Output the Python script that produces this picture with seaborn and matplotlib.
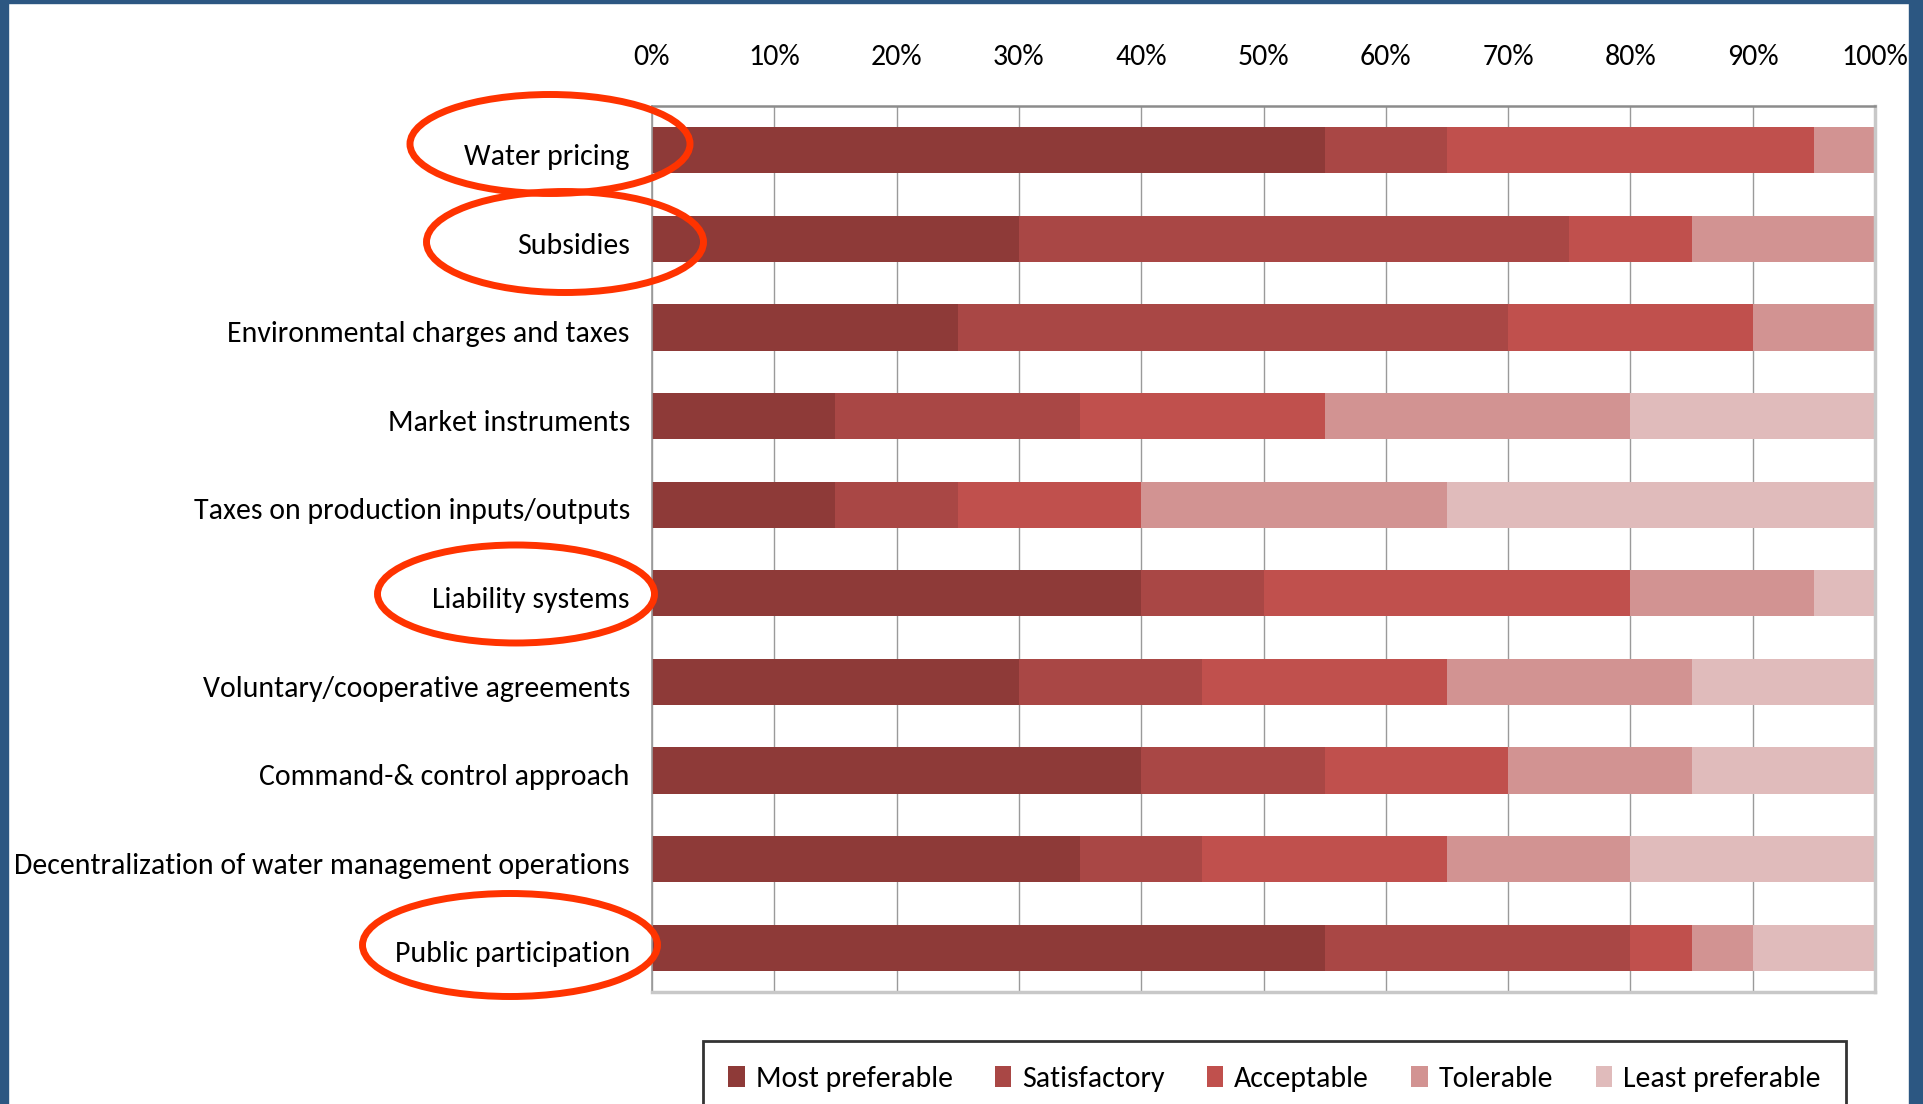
import numpy as np
import matplotlib
matplotlib.use("Agg")
import matplotlib.pyplot as plt
import seaborn as sns
from matplotlib.patches import Ellipse, Rectangle, Patch
from matplotlib.transforms import ScaledTranslation

# Policy instruments (top to bottom) and share of responses per preference level (%)
instruments = [
    "Water pricing",
    "Subsidies",
    "Environmental charges and taxes",
    "Market instruments",
    "Taxes on production inputs/outputs",
    "Liability systems",
    "Voluntary/cooperative agreements",
    "Command-& control approach",
    "Decentralization of water management operations",
    "Public participation",
]
most_preferable = [55, 30, 25, 15, 15, 40, 30, 40, 35, 55]
satisfactory = [10, 45, 45, 20, 10, 10, 15, 15, 10, 25]
acceptable = [30, 10, 20, 20, 15, 30, 20, 15, 20, 5]
tolerable = [5, 15, 10, 25, 25, 15, 20, 15, 15, 5]
least_preferable = [0, 0, 0, 20, 35, 5, 15, 15, 20, 10]

levels = ["Most preferable", "Satisfactory", "Acceptable", "Tolerable", "Least preferable"]
level_colors = ["#8E3A38", "#A94745", "#C0504D", "#D29392", "#E0BBBB"]
tick_values = [0, 10, 20, 30, 40, 50, 60, 70, 80, 90, 100]
tick_labels = ["0%", "10%", "20%", "30%", "40%", "50%", "60%", "70%", "80%", "90%", "100%"]

# Instruments whose labels are circled
highlighted = ["Water pricing", "Subsidies", "Liability systems", "Public participation"]

sns.set_style("white")
plt.rcParams["font.family"] = ["Carlito", "DejaVu Sans"]
plt.rcParams["text.color"] = "black"
plt.rcParams["xtick.color"] = "black"
plt.rcParams["ytick.color"] = "black"
FS = 21.5

W, H = 1924, 1104
fig = plt.figure(figsize=(W / 100, H / 100), dpi=100)
fig.patch.set_facecolor("white")

ax_l, ax_r, ax_t, ax_b = 652, 1875, 106, 992
ax = fig.add_axes([ax_l / W, 1 - ax_b / H, (ax_r - ax_l) / W, (ax_b - ax_t) / H])

# Stacked bars: draw cumulative totals from the widest down so each level overlays the next
shares = np.array([most_preferable, satisfactory, acceptable, tolerable, least_preferable], dtype=float)
cumulative = np.cumsum(shares, axis=0)
for i in reversed(range(len(levels))):
    sns.barplot(
        x=cumulative[i], y=instruments, order=instruments, orient="h",
        color=level_colors[i], saturation=1, width=0.52, errorbar=None,
        linewidth=0, edgecolor="none", ax=ax,
    )

ax.set_xlim(0, 100)
ax.set_ylim(9.5, -0.5)
ax.set_xticks(tick_values)
ax.set_xticklabels(tick_labels, fontsize=FS)
ax.xaxis.tick_top()
ax.tick_params(axis="x", length=0, pad=26)
ax.tick_params(axis="y", length=0, pad=16, labelsize=FS)
ax.set_xlabel("")
ax.set_ylabel("")
# nudge category labels slightly downward
for lbl in ax.get_yticklabels():
    lbl.set_transform(lbl.get_transform() + ScaledTranslation(0, -3 / 72, fig.dpi_scale_trans))

ax.set_axisbelow(True)
ax.xaxis.grid(True, color="#9A9A9A", linewidth=1)
ax.yaxis.grid(False)

for side, col, lw in [("left", "#9A9A9A", 1.2), ("top", "#8C8C8C", 1.8),
                      ("right", "#C8C8C8", 2.5), ("bottom", "#C8C8C8", 2.5)]:
    ax.spines[side].set_visible(True)
    ax.spines[side].set_color(col)
    ax.spines[side].set_linewidth(lw)

# Legend along the bottom edge
handles = [Patch(facecolor=c, edgecolor="none") for c in level_colors]
leg = fig.legend(
    handles, levels, loc="upper left", bbox_to_anchor=(703 / W, 1 - 1041 / H),
    ncol=5, fontsize=FS, frameon=True, fancybox=False, borderpad=0.85, borderaxespad=0,
    handlelength=0.54, handleheight=0.7, handletextpad=0.37, columnspacing=1.42,
)
leg.get_frame().set_edgecolor("black")
leg.get_frame().set_linewidth(2)

# Circles around highlighted instrument labels (centre x, centre y, width, height in pixels)
ellipse_px = {
    "Water pricing": (550, 144, 280, 99),
    "Subsidies": (565, 242, 277, 101),
    "Liability systems": (516, 594, 277, 98),
    "Public participation": (510, 945, 295, 103),
}
for name in highlighted:
    cx, cy, ew, eh = ellipse_px[name]
    fig.add_artist(Ellipse((cx / W, 1 - cy / H), ew / W, eh / H, transform=fig.transFigure,
                           fill=False, edgecolor="#FF3300", linewidth=5, zorder=10))

# Slide frame
frame_blue = "#2C5782"
fig.add_artist(Rectangle((0, 0), 8 / W, 1, transform=fig.transFigure, color=frame_blue, zorder=11))
fig.add_artist(Rectangle((0, 1 - 3 / H), 1, 3 / H, transform=fig.transFigure, color=frame_blue, zorder=11))
fig.add_artist(Rectangle((1909 / W, 0), 15 / W, 1, transform=fig.transFigure, color=frame_blue, zorder=11))

fig.savefig("out.png", dpi=100, facecolor="white")
